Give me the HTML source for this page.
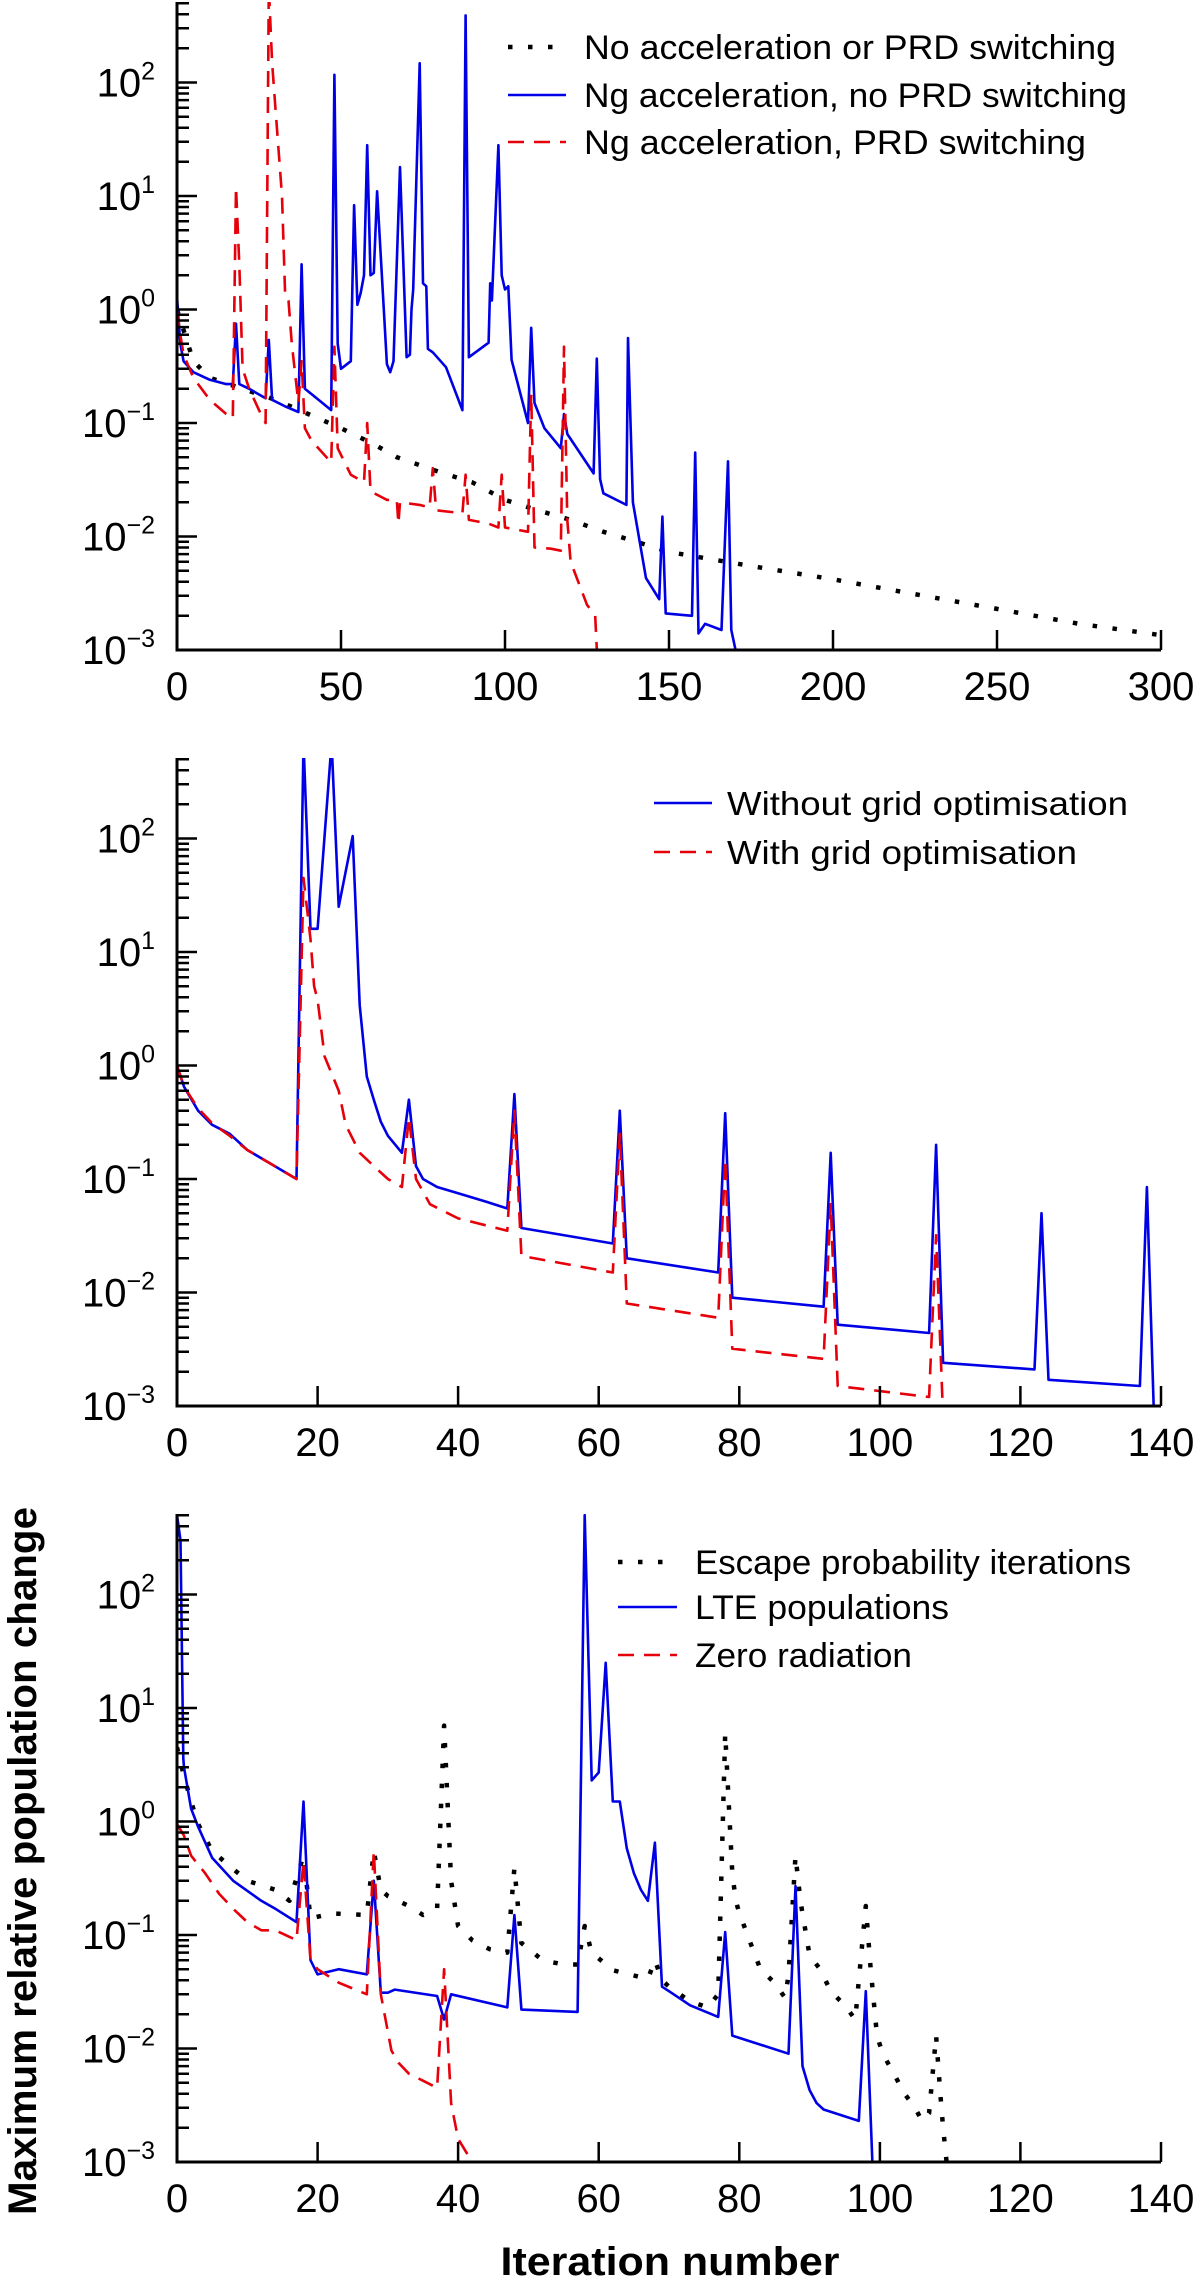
<!DOCTYPE html>
<html>
<head>
<meta charset="utf-8">
<style>
html,body{margin:0;padding:0;background:#fff;}
svg{display:block;}
text{font-family:"Liberation Sans","DejaVu Sans",sans-serif;fill:#000;}
</style>
</head>
<body>
<svg id="chart" width="1200" height="2285" viewBox="0 0 1200 2285" xmlns="http://www.w3.org/2000/svg">
<defs>
<clipPath id="clip0"><rect x="177" y="2" width="990" height="648"/></clipPath>
<clipPath id="clip1"><rect x="177" y="758" width="990" height="648"/></clipPath>
<clipPath id="clip2"><rect x="177" y="1514" width="990" height="648"/></clipPath>
</defs>
<g id="root"></g>
<text x="0" y="0" transform="translate(36,1861) rotate(-90)" text-anchor="middle" font-size="40" font-weight="bold" textLength="708" lengthAdjust="spacingAndGlyphs">Maximum relative population change</text>
<text x="670" y="2275" text-anchor="middle" font-size="40" font-weight="bold" textLength="339" lengthAdjust="spacingAndGlyphs">Iteration number</text>
</svg>
<script>
// ---- Panel 1 data ----
const p1BlackX = [0,5,10,20,30,40,50,60,67,80,90,100,110,120,130,140,150,175,200,225,250,275,300];
const p1BlackY = [1,0.35,0.25,0.2,0.16,0.12,0.09,0.065,0.05,0.037,0.03,0.021,0.017,0.014,0.011,0.009,0.0073,0.0055,0.0042,0.0031,0.0023,0.0017,0.00135];
const p1BlueX = [0,1,2,5,10,15,17,18,19,22,27,28,29,33,37,38,39,42,47,48,49,50,53,54,55,56,57,58,59,60,61,64,65,66,68,70,71,71.5,72,74,75,76,76.5,78,82,87,88,89,95,95.5,96,98,99,100,101,102,107,108,109,112,117,118,119,127,128,129,130,137,137.5,139,143,147,148,149,157,158,159,161,166,168,169,171];
const p1BlueY = [1.3,0.5,0.35,0.28,0.24,0.22,0.22,0.75,0.22,0.2,0.165,0.54,0.16,0.14,0.125,2.5,0.2,0.17,0.13,117,0.5,0.3,0.35,8.3,1.1,1.4,2.0,28,2.0,2.1,11,0.33,0.28,0.35,18,0.38,0.4,1.0,1.5,148,1.7,1.6,0.45,0.42,0.31,0.13,390,0.38,0.51,1.7,1.2,28,2.0,1.5,1.6,0.36,0.1,0.69,0.15,0.09,0.06,0.12,0.08,0.036,0.37,0.032,0.024,0.019,0.56,0.02,0.0043,0.0028,0.015,0.0021,0.002,0.055,0.0014,0.0017,0.0015,0.046,0.0015,0.0008];
const p1RedX = [0,1,2,5,10,15,17,18,19,20,22,25,27,28,29,30,32,33,34,35,37,38,39,41,47,48,49,53,57,58,59,64,67,67.5,68,74,77,78,79,87,88,89,95,98,99,100,107,108,109,114,117,118,119,120,125,127.5,128.5];
const p1RedY = [1.0,0.6,0.4,0.25,0.16,0.12,0.11,12,2.5,0.3,0.2,0.13,0.1,700,150,60,10,1.3,1.2,0.5,0.15,0.35,0.09,0.07,0.045,0.47,0.06,0.035,0.03,0.1,0.025,0.021,0.021,0.013,0.02,0.019,0.018,0.04,0.017,0.016,0.035,0.014,0.013,0.012,0.035,0.012,0.011,0.18,0.008,0.0078,0.0075,0.47,0.014,0.006,0.0025,0.002,0.0005];
const p1XTicks = [0,50,100,150,200,250,300];
// ---- Panel 2 data ----
const p2BlueX = [0,1,3,5,7.5,10,13,17,18,19,20,22,23,25,26,27,28,29,30,32,33,34,35,37,40,44,47,48,49,62,63,64,77,78,79,92,93,94,107,108,109,122,123,124,137,138,139];
const p2BlueY = [1.0,0.65,0.4,0.3,0.25,0.18,0.14,0.1,700,16,16,700,25,105,3.4,0.8,0.5,0.32,0.24,0.17,0.5,0.13,0.1,0.085,0.075,0.063,0.055,0.56,0.037,0.027,0.4,0.02,0.015,0.38,0.009,0.0075,0.17,0.0052,0.0044,0.2,0.0024,0.0021,0.05,0.0017,0.0015,0.085,0.0008];
const p2RedX = [0,1,3,5,7.5,10,13,17,18,19,19.5,20,21,23,24,26,28,30,32,33,34,36,40,47,48,49,62,63,64,77,78,79,92,93,94,107,108,109];
const p2RedY = [1.0,0.65,0.42,0.31,0.24,0.18,0.14,0.1,45,13,5,3.8,1.2,0.6,0.3,0.17,0.13,0.1,0.085,0.35,0.1,0.06,0.045,0.035,0.4,0.021,0.015,0.25,0.008,0.006,0.15,0.0032,0.0026,0.06,0.0015,0.0012,0.032,0.0008];
const p2XTicks = [0,20,40,60,80,100,120,140];
// ---- Panel 3 data ----
const p3BlackX = [0,1,2,3,5,7,10,14,16,18,19,22,27,28,29,30,33,35,37,38,39,40,42,44.5,47,48,49,52,55,57,58,59,62,65,67,68,69,70,73,75.5,77,78,79,79.5,80,82,83,85,86.5,87,88,88.7,90,91.5,93,95,96.5,97,98,98.7,99.6,100.4,102,103.5,105,106,107,108,108.6,109,109.5];
const p3BlackY = [4.5,2.5,1.5,0.95,0.55,0.43,0.3,0.25,0.2,0.5,0.14,0.155,0.15,0.55,0.25,0.22,0.18,0.15,0.17,7,0.3,0.12,0.09,0.075,0.07,0.39,0.085,0.06,0.055,0.055,0.12,0.07,0.049,0.044,0.041,0.06,0.04,0.035,0.026,0.023,0.03,6,0.35,0.2,0.156,0.073,0.05,0.038,0.028,0.044,0.5,0.2,0.066,0.05,0.032,0.024,0.018,0.04,0.18,0.05,0.013,0.009,0.006,0.004,0.003,0.0023,0.0027,0.013,0.004,0.002,0.001];
const p3BlueX = [0,0.5,0.9,1,2,3,5,8,12,14,17,18,19,20,23,27,28,29,30,31,37,38,39,47,48,49,57,58,59,60,61,62,63,64,65,66,67,68,69,70,73,77,78,79,87,88,89,90,91,92,97,98,99];
const p3BlueY = [500,300,3.6,3,1.3,0.9,0.48,0.3,0.2,0.17,0.13,1.5,0.06,0.045,0.05,0.045,0.3,0.031,0.031,0.033,0.029,0.018,0.03,0.023,0.15,0.022,0.021,500,2.3,2.7,25,1.5,1.5,0.58,0.35,0.25,0.2,0.65,0.035,0.032,0.024,0.019,0.106,0.013,0.009,0.27,0.007,0.0043,0.0033,0.0029,0.0023,0.032,0.0008];
const p3RedX = [0,1,2,4,6,8,10,12,14,17,18,19,20,23,27,28,29,30.5,31.5,33,35,37,38,39,40,42,44];
const p3RedY = [0.95,0.75,0.5,0.35,0.23,0.17,0.13,0.11,0.11,0.09,0.45,0.06,0.05,0.038,0.03,0.55,0.03,0.0096,0.0075,0.006,0.0052,0.0045,0.05,0.0033,0.0016,0.001,0.0008];
const p3XTicks = [0,20,40,60,80,100,120,140];
const yDecades = [-3,-2,-1,0,1,2];
// legend labels
const p1Labels = ["No acceleration or PRD switching","Ng acceleration, no PRD switching","Ng acceleration, PRD switching"];
const p2Labels = ["Without grid optimisation","With grid optimisation"];
const p3Labels = ["Escape probability iterations","LTE populations","Zero radiation"];

const NS = "http://www.w3.org/2000/svg";
const root = document.getElementById('root');
const X0 = 177, XW = 984, PH = 648, DEC = 113.5;
const STY = {
  black:{stroke:"#000",w:4.5,dash:"4.5 15.5",cap:"butt"},
  blue:{stroke:"#0000e6",w:2.6,dash:"",cap:"butt"},
  red:{stroke:"#e6000a",w:2.6,dash:"16 10",cap:"butt"}
};
function mk(tag, attrs, parent){
  const e = document.createElementNS(NS, tag);
  for (const k in attrs) e.setAttribute(k, attrs[k]);
  (parent||root).appendChild(e);
  return e;
}
function panel(idx, top, xmax, xticks, series, labels, leg){
  const bottom = top + PH;
  const xs = v => X0 + v * XW / xmax;
  const ys = v => bottom - (Math.log10(v) + 3) * DEC;
  const g = mk('g', {});
  
  
  // series
  const sg = mk('g', {'clip-path':'url(#clip'+idx+')'}, g);
  
  
  series.forEach(s => {
    const st = STY[s.style];
    const pts = s.x.map((v,i) => xs(v).toFixed(1) + ',' + ys(s.y[i]).toFixed(1)).join(' ');
    const pl = mk('polyline', {points:pts, fill:'none', stroke:st.stroke, 'stroke-width':st.w, 'stroke-dasharray':st.dash, 'stroke-linejoin':'round', 'stroke-linecap':st.cap}, sg);
    
    
  });
  // axes
  const ax = mk('path', {d:'M'+X0+','+top+' V'+bottom+' H'+(X0+XW), fill:'none', stroke:'#000', 'stroke-width':3}, g);
  
  
  // y ticks
  let d = '';
  yDecades.forEach(k => {
    const y = ys(Math.pow(10,k));
    d += 'M'+X0+','+y.toFixed(1)+' h20 ';
    for (let m=2;m<=9;m++){
      const yy = ys(m*Math.pow(10,k));
      if (yy >= top) d += 'M'+X0+','+yy.toFixed(1)+' h12 ';
    }
  });
  xticks.forEach(t => { d += 'M'+xs(t).toFixed(1)+','+bottom+' v-20 '; });
  const tk = mk('path', {d:d, stroke:'#000', 'stroke-width':2.5, fill:'none'}, g);
  
  
  yDecades.forEach(k => {
    const y = ys(Math.pow(10,k));
    const t = mk('text', {x:155, y:(y+14).toFixed(1), 'text-anchor':'end', 'font-size':40}, g);
    
    
    t.appendChild(document.createTextNode('10'));
    const sp = mk('tspan', {dy:-17, 'font-size':25}, t);
    sp.textContent = (k<0 ? '\u2212' + (-k) : String(k));
  });
  xticks.forEach(v => {
    const t = mk('text', {x:xs(v).toFixed(1), y:bottom+50, 'text-anchor':'middle', 'font-size':40}, g);
    
    
    t.textContent = String(v);
  });
  // legend
  const lg = mk('g', {}, g);
  
  
  series.forEach((s,i) => {
    const st = STY[s.style];
    const y = leg.rows[i];
    const ln = mk('line', {x1:leg.x1, x2:leg.x2, y1:y, y2:y, stroke:st.stroke, 'stroke-width':st.w, 'stroke-dasharray':st.dash}, lg);
    
    
    const t = mk('text', {x:leg.tx, y:y+12, 'font-size':leg.fs, textLength:leg.widths[i], lengthAdjust:'spacingAndGlyphs'}, lg);
    
    
    t.textContent = labels[i];
  });
}
panel(0, 2, 300, p1XTicks, [
  {name:'no-acceleration-line', style:'black', x:p1BlackX, y:p1BlackY},
  {name:'ng-no-prd-line', style:'blue', x:p1BlueX, y:p1BlueY},
  {name:'ng-prd-line', style:'red', x:p1RedX, y:p1RedY}
], p1Labels, {x1:508, x2:566, tx:584, fs:34, rows:[47,95,142], widths:[532,543,502]});
panel(1, 758, 140, p2XTicks, [
  {name:'without-grid-opt-line', style:'blue', x:p2BlueX, y:p2BlueY},
  {name:'with-grid-opt-line', style:'red', x:p2RedX, y:p2RedY}
], p2Labels, {x1:654, x2:712, tx:727, fs:33, rows:[803,852], widths:[401,350]});
panel(2, 1514, 140, p3XTicks, [
  {name:'escape-probability-line', style:'black', x:p3BlackX, y:p3BlackY},
  {name:'lte-populations-line', style:'blue', x:p3BlueX, y:p3BlueY},
  {name:'zero-radiation-line', style:'red', x:p3RedX, y:p3RedY}
], p3Labels, {x1:618, x2:677, tx:695, fs:34, rows:[1562,1607,1655], widths:[436,254,217]});
</script>
</body>
</html>
